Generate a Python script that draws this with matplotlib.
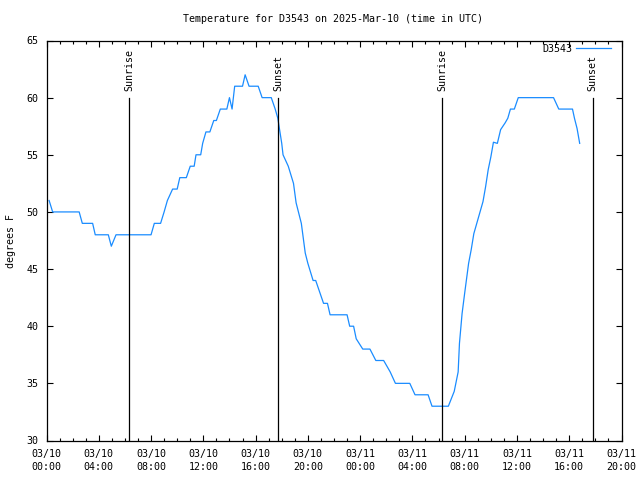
import pandas as pd
import matplotlib
matplotlib.use('Agg')
import matplotlib.pyplot as plt
import matplotlib.dates as mdates

# hours since 2025-03-10 00:00 UTC, and temperature in F
hours = [0.2, 0.47, 2.5, 2.74, 3.53, 3.73, 4.73, 4.96, 5.32, 8.0,
         8.25, 8.73, 9.0, 9.25, 9.65, 10.0, 10.2, 10.7, 11.0, 11.3,
         11.44, 11.8, 11.95, 12.2, 12.5, 12.8, 13.0, 13.3, 13.8, 14.0,
         14.2, 14.4, 15.0, 15.2, 15.5, 16.2, 16.5, 17.2, 17.5, 17.7,
         18.0, 18.1, 18.5, 18.9, 19.1, 19.5, 19.8, 20.0, 20.4, 20.6,
         21.2, 21.5, 21.7, 23.0, 23.2, 23.5, 23.7, 24.2, 24.75, 25.2,
         25.8, 26.3, 26.7, 27.8, 28.2, 29.2, 29.5, 30.75, 31.2, 31.5,
         31.6, 31.8, 32.0, 32.3, 32.5, 32.7, 33.0, 33.4, 33.6, 33.8,
         34.0, 34.2, 34.5, 34.75, 35.1, 35.3, 35.5, 35.8, 36.1, 38.8,
         39.2, 40.25, 40.4, 40.6, 40.8]
temps = [51, 50, 50, 49, 49, 48, 48, 47, 48, 48,
         49, 49, 50, 51, 52, 52, 53, 53, 54, 54,
         55, 55, 56, 57, 57, 58, 58, 59, 59, 60,
         59, 61, 61, 62, 61, 61, 60, 60, 59, 58.2,
         56, 55, 54, 52.5, 50.8, 49, 46.4, 45.5, 44, 44,
         42, 42, 41, 41, 40, 40, 38.9, 38, 38, 37,
         37, 36, 35, 35, 34, 34, 33, 33, 34.3, 36,
         38.5, 41.1, 42.9, 45.5, 46.7, 48.1, 49.3, 50.9, 52.2, 53.7,
         54.8, 56.1, 56, 57.2, 57.8, 58.2, 59, 59, 60, 60,
         59, 59, 58.2, 57.3, 56]

sun_labels = ['Sunrise', 'Sunset', 'Sunrise', 'Sunset']
sun_times = ['2025-03-10 06:20', '2025-03-10 17:45', '2025-03-11 06:18', '2025-03-11 17:47']

t0 = pd.Timestamp('2025-03-10 00:00')
times = t0 + pd.to_timedelta(hours, unit='h')

plt.rcParams['font.family'] = 'DejaVu Sans Mono'
plt.rcParams['font.size'] = 7.2

fig = plt.figure(figsize=(6.4, 4.8), dpi=100)
ax = fig.add_axes([46.5 / 640, 1 - 440.5 / 480, 575 / 640, 400 / 480])

ax.plot(times, temps, color='#1a8cff', linewidth=0.9, label='D3543')

for lab, ts in zip(sun_labels, sun_times):
    t = pd.Timestamp(ts)
    ax.plot([t, t], [30, 60], color='black', linewidth=0.9)
    ax.text(t, 60.6, lab, rotation=90, ha='center', va='bottom')

ax.set_xlim(t0, pd.Timestamp('2025-03-11 20:00'))
ax.set_ylim(30, 65)
ax.set_yticks(range(30, 66, 5))
ax.xaxis.set_major_locator(mdates.HourLocator(byhour=range(0, 24, 4)))
ax.xaxis.set_minor_locator(mdates.HourLocator())
ax.xaxis.set_major_formatter(mdates.DateFormatter('%m/%d\n%H:%M'))
for lbl in ax.get_xticklabels():
    lbl.set_linespacing(1.45)

ax.tick_params(which='both', direction='in', top=True, right=True, width=0.8)
ax.tick_params(which='major', length=4)
ax.tick_params(which='minor', length=2)
ax.tick_params(axis='x', pad=6)
ax.tick_params(axis='y', pad=6)
for s in ax.spines.values():
    s.set_linewidth(0.9)

ax.set_ylabel('degrees F')
ax.yaxis.set_label_coords(-30 / 575, 0.5)
fig.text(333 / 640, 1 - 19 / 480, 'Temperature for D3543 on 2025-Mar-10 (time in UTC)',
         ha='center', va='center')

ax.legend(loc='upper right', frameon=False, markerfirst=False, handlelength=3.5,
          handletextpad=0.4, borderpad=0, borderaxespad=0,
          bbox_to_anchor=(1 - 10.5 / 575, 1 - 3 / 400))

fig.savefig('out.png', dpi=100)
